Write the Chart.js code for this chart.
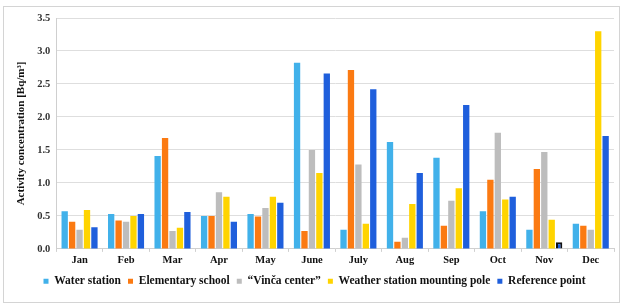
<!DOCTYPE html>
<html>
<head>
<meta charset="utf-8">
<script src="https://cdn.jsdelivr.net/npm/chart.js@4"></script>
<style>
  body { margin: 0; background: #fff; }
  #frame { position: absolute; left: 3px; top: 6px; width: 615px; height: 295px; border: 1px solid #d4d4d4; }
  #chart { position: absolute; left: 0; top: 0; }
</style>
</head>
<body>
<div id="frame"></div>
<canvas id="chart" width="623" height="305"></canvas>
<script>
const months = ['Jan', 'Feb', 'Mar', 'Apr', 'May', 'June', 'July', 'Aug', 'Sep', 'Oct', 'Nov', 'Dec'];
const waterStation = [0.57, 0.53, 1.41, 0.50, 0.53, 2.82, 0.29, 1.62, 1.38, 0.57, 0.29, 0.38];
const elementarySchool = [0.41, 0.43, 1.68, 0.50, 0.49, 0.27, 2.71, 0.11, 0.35, 1.05, 1.21, 0.35];
const vincaCenter = [0.29, 0.41, 0.27, 0.86, 0.62, 1.50, 1.28, 0.17, 0.73, 1.76, 1.47, 0.29];
const weatherPole = [0.59, 0.50, 0.32, 0.79, 0.79, 1.15, 0.38, 0.68, 0.92, 0.75, 0.44, 3.30];
const referencePoint = [0.33, 0.53, 0.56, 0.41, 0.70, 2.66, 2.42, 1.15, 2.18, 0.79, 0.10, 1.71];

const serif = "'Liberation Serif', 'Times New Roman', serif";

new Chart(document.getElementById('chart'), {
    type: 'bar',
    data: {
        labels: months,
        datasets: [
            { label: 'Water station', data: waterStation, backgroundColor: '#41b1ea' },
            { label: 'Elementary school', data: elementarySchool, backgroundColor: '#fb7a12' },
            { label: '\u201CVin\u010Da center\u201D', data: vincaCenter, backgroundColor: '#bdbdbd' },
            { label: 'Weather station mounting pole', data: weatherPole, backgroundColor: '#ffd400' },
            {
                label: 'Reference point',
                data: referencePoint,
                backgroundColor: '#1f5fdc',
                // the Nov bar is outlined in black in the original
                borderColor: months.map(m => m === 'Nov' ? '#111' : '#1f5fdc'),
                borderWidth: months.map(m => m === 'Nov' ? 2 : 0)
            }
        ]
    },
    options: {
        responsive: false,
        animation: false,
        layout: { padding: { left: 15, right: 9, top: 18, bottom: 8 } },
        datasets: { bar: { categoryPercentage: 0.8, barPercentage: 0.85 } },
        scales: {
            x: {
                grid: { drawOnChartArea: false, color: '#d0d0d0', tickLength: 3, offset: true },
                border: { color: '#d0d0d0' },
                ticks: { color: '#111', font: { family: serif, size: 10.5, weight: 'bold' }, padding: 2, maxRotation: 0 }
            },
            y: {
                min: 0,
                max: 3.5,
                grid: { color: '#dedede', drawTicks: false },
                border: { color: '#cfcfcf' },
                ticks: {
                    stepSize: 0.5,
                    padding: 6,
                    color: '#333',
                    font: { family: serif, size: 10.5, weight: 'bold' },
                    callback: v => v.toFixed(1)
                },
                title: {
                    display: true,
                    text: 'Activity concentration [Bq/m\u00B3]',
                    color: '#111',
                    font: { family: serif, size: 11, weight: 'bold' },
                    padding: { top: 0, bottom: 3 }
                }
            }
        },
        plugins: {
            legend: {
                position: 'bottom',
                labels: {
                    usePointStyle: true,
                    pointStyle: 'rect',
                    boxWidth: 5,
                    boxHeight: 5,
                    padding: 7,
                    color: '#111',
                    font: { family: serif, size: 11.5, weight: 'bold' }
                }
            },
            tooltip: { enabled: false }
        }
    }
});
</script>
</body>
</html>
